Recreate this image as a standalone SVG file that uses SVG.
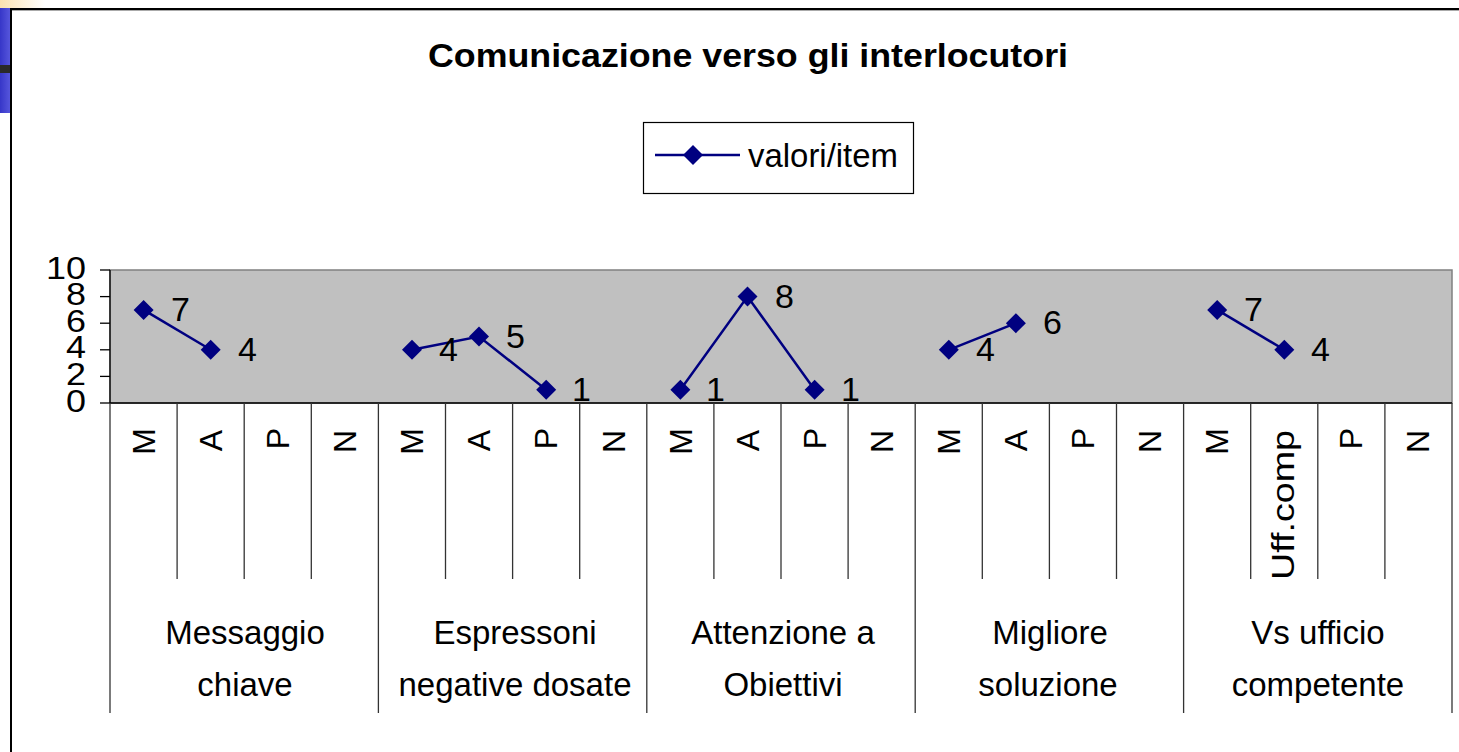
<svg xmlns="http://www.w3.org/2000/svg" width="1459" height="752" viewBox="0 0 1459 752">
<defs>
<linearGradient id="og" x1="0" y1="0" x2="1" y2="0"><stop offset="0" stop-color="#FCE3B0"/><stop offset="1" stop-color="#FFFFFF"/></linearGradient>
<linearGradient id="bg" x1="0" y1="0" x2="1" y2="0"><stop offset="0" stop-color="#3636C8"/><stop offset="1" stop-color="#5656DC"/></linearGradient>
<path id="dia" d="M0,-10 L10,0 L0,10 L-10,0 Z"/>
</defs>
<style>
text{font-family:"Liberation Sans",Arial,sans-serif;fill:#000;}
.t{font-size:33px;font-weight:bold;}
.leg{font-size:33px;}
.lbl{font-size:34px;}
.ax{font-size:31px;text-anchor:end;}
.cat{font-size:32px;text-anchor:end;}
.grp{font-size:33px;text-anchor:middle;}
.minor{stroke:#333;stroke-width:1.3;}
.major{stroke:#333;stroke-width:1.3;}
.ser{fill:none;stroke:#000080;stroke-width:2.5;}
.pt{fill:#000080;}
</style>
<rect width="1459" height="752" fill="#fff"/>
<rect x="0" y="0" width="45" height="8" fill="url(#og)"/>
<rect x="0" y="8" width="10" height="105" fill="url(#bg)"/>
<rect x="0" y="65" width="10" height="8" fill="#2a2a2a"/>
<line x1="10" y1="9" x2="1459" y2="9" stroke="#000" stroke-width="2"/>
<line x1="12" y1="10.5" x2="1459" y2="10.5" stroke="#aaa" stroke-width="1"/>
<line x1="11" y1="8" x2="11" y2="752" stroke="#000" stroke-width="2"/>

<g id="title"><text class="t" x="428" y="67" textLength="640" lengthAdjust="spacingAndGlyphs">Comunicazione verso gli interlocutori</text></g>

<g id="legend">
<rect x="643.5" y="122.5" width="270" height="71" fill="#fff" stroke="#000" stroke-width="1.2"/>
<line x1="655" y1="155" x2="740" y2="155" stroke="#000080" stroke-width="2.5"/>
<use href="#dia" x="693" y="155" class="pt"/>
<text class="leg" x="748" y="167" textLength="150" lengthAdjust="spacingAndGlyphs">valori/item</text>
</g>

<g id="plot">
<rect x="110" y="270" width="1342" height="133" fill="#C0C0C0" stroke="#808080" stroke-width="1.5"/>
<line x1="110" y1="270" x2="110" y2="403" stroke="#000" stroke-width="1.3"/>
<line x1="110" y1="403" x2="1452" y2="403" stroke="#000" stroke-width="1.3"/>
<g stroke="#000" stroke-width="1.3">
<line x1="100" y1="270" x2="110" y2="270"/>
<line x1="100" y1="296.6" x2="110" y2="296.6"/>
<line x1="100" y1="323.2" x2="110" y2="323.2"/>
<line x1="100" y1="349.8" x2="110" y2="349.8"/>
<line x1="100" y1="376.4" x2="110" y2="376.4"/>
<line x1="100" y1="403" x2="110" y2="403"/>
</g>
<text class="ax" x="86" y="279" textLength="40" lengthAdjust="spacingAndGlyphs">10</text>
<text class="ax" x="86" y="305" textLength="20" lengthAdjust="spacingAndGlyphs">8</text>
<text class="ax" x="86" y="332" textLength="20" lengthAdjust="spacingAndGlyphs">6</text>
<text class="ax" x="86" y="358" textLength="20" lengthAdjust="spacingAndGlyphs">4</text>
<text class="ax" x="86" y="385" textLength="20" lengthAdjust="spacingAndGlyphs">2</text>
<text class="ax" x="86" y="412" textLength="20" lengthAdjust="spacingAndGlyphs">0</text>
</g>

<g id="axis-lines">
<line class="major" x1="110" y1="403" x2="110" y2="713"/>
<line class="minor" x1="177.1" y1="403" x2="177.1" y2="579"/>
<line class="minor" x1="244.2" y1="403" x2="244.2" y2="579"/>
<line class="minor" x1="311.3" y1="403" x2="311.3" y2="579"/>
<line class="major" x1="378.4" y1="403" x2="378.4" y2="713"/>
<line class="minor" x1="445.5" y1="403" x2="445.5" y2="579"/>
<line class="minor" x1="512.6" y1="403" x2="512.6" y2="579"/>
<line class="minor" x1="579.7" y1="403" x2="579.7" y2="579"/>
<line class="major" x1="646.8" y1="403" x2="646.8" y2="713"/>
<line class="minor" x1="713.9" y1="403" x2="713.9" y2="579"/>
<line class="minor" x1="781" y1="403" x2="781" y2="579"/>
<line class="minor" x1="848.1" y1="403" x2="848.1" y2="579"/>
<line class="major" x1="915.2" y1="403" x2="915.2" y2="713"/>
<line class="minor" x1="982.3" y1="403" x2="982.3" y2="579"/>
<line class="minor" x1="1049.4" y1="403" x2="1049.4" y2="579"/>
<line class="minor" x1="1116.5" y1="403" x2="1116.5" y2="579"/>
<line class="major" x1="1183.6" y1="403" x2="1183.6" y2="713"/>
<line class="minor" x1="1250.7" y1="403" x2="1250.7" y2="579"/>
<line class="minor" x1="1317.8" y1="403" x2="1317.8" y2="579"/>
<line class="minor" x1="1384.9" y1="403" x2="1384.9" y2="579"/>
<line class="major" x1="1452" y1="403" x2="1452" y2="713"/>
</g>

<g id="categories">
<text class="cat" transform="translate(155,428) rotate(-90)">M</text>
<text class="cat" transform="translate(222,430) rotate(-90)">A</text>
<text class="cat" transform="translate(289,428) rotate(-90)">P</text>
<text class="cat" transform="translate(356,430) rotate(-90)">N</text>
<text class="cat" transform="translate(423,428) rotate(-90)">M</text>
<text class="cat" transform="translate(490,430) rotate(-90)">A</text>
<text class="cat" transform="translate(557,428) rotate(-90)">P</text>
<text class="cat" transform="translate(625,430) rotate(-90)">N</text>
<text class="cat" transform="translate(692,428) rotate(-90)">M</text>
<text class="cat" transform="translate(759,430) rotate(-90)">A</text>
<text class="cat" transform="translate(826,428) rotate(-90)">P</text>
<text class="cat" transform="translate(893,430) rotate(-90)">N</text>
<text class="cat" transform="translate(960,428) rotate(-90)">M</text>
<text class="cat" transform="translate(1027,430) rotate(-90)">A</text>
<text class="cat" transform="translate(1094,428) rotate(-90)">P</text>
<text class="cat" transform="translate(1161,430) rotate(-90)">N</text>
<text class="cat" transform="translate(1228,428) rotate(-90)">M</text>
<text class="cat" transform="translate(1294,430) rotate(-90)" textLength="150" lengthAdjust="spacingAndGlyphs">Uff.comp</text>
<text class="cat" transform="translate(1362,428) rotate(-90)">P</text>
<text class="cat" transform="translate(1429,430) rotate(-90)">N</text>
</g>

<g id="groups">
<text class="grp" x="245" y="644">Messaggio</text>
<text class="grp" x="245" y="696">chiave</text>
<text class="grp" x="515" y="644">Espressoni</text>
<text class="grp" x="515" y="696">negative dosate</text>
<text class="grp" x="783" y="644">Attenzione a</text>
<text class="grp" x="783" y="696">Obiettivi</text>
<text class="grp" x="1050" y="644">Migliore</text>
<text class="grp" x="1048" y="696">soluzione</text>
<text class="grp" x="1318" y="644">Vs ufficio</text>
<text class="grp" x="1318" y="696">competente</text>
</g>

<g id="connectors">
<polyline class="ser" points="143.6,309.9 210.7,349.8"/>
<polyline class="ser" points="412,349.8 479,336.5 546.2,389.7"/>
<polyline class="ser" points="680.4,389.7 747.5,296.6 814.6,389.7"/>
<polyline class="ser" points="948.8,349.8 1015.9,323.2"/>
<polyline class="ser" points="1217.2,309.9 1284.3,349.8"/>
</g>

<g id="points" class="pt">
<use href="#dia" x="143.6" y="309.9"/>
<use href="#dia" x="210.7" y="349.8"/>
<use href="#dia" x="412" y="349.8"/>
<use href="#dia" x="479" y="336.5"/>
<use href="#dia" x="546.2" y="389.7"/>
<use href="#dia" x="680.4" y="389.7"/>
<use href="#dia" x="747.5" y="296.6"/>
<use href="#dia" x="814.6" y="389.7"/>
<use href="#dia" x="948.8" y="349.8"/>
<use href="#dia" x="1015.9" y="323.2"/>
<use href="#dia" x="1217.2" y="309.9"/>
<use href="#dia" x="1284.3" y="349.8"/>
</g>

<g id="data-labels">
<text class="lbl" x="171" y="321">7</text>
<text class="lbl" x="238" y="361">4</text>
<text class="lbl" x="439" y="361">4</text>
<text class="lbl" x="506" y="348">5</text>
<text class="lbl" x="572" y="401">1</text>
<text class="lbl" x="706" y="401">1</text>
<text class="lbl" x="775" y="308">8</text>
<text class="lbl" x="841" y="401">1</text>
<text class="lbl" x="976" y="361">4</text>
<text class="lbl" x="1043" y="334">6</text>
<text class="lbl" x="1244" y="321">7</text>
<text class="lbl" x="1311" y="361">4</text>
</g>
</svg>
